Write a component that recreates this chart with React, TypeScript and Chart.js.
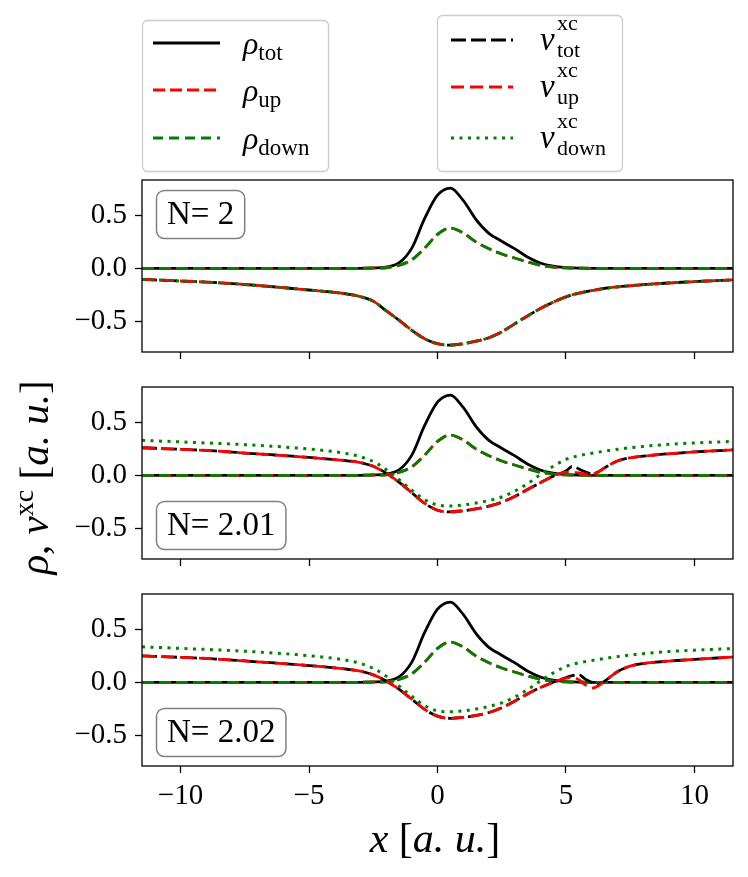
import React, { useEffect, useRef } from 'react';
import { Chart, registerables } from 'chart.js';

Chart.register(...registerables);

const SERIF = '"Liberation Serif", "Times New Roman", serif';
const BLACK = '#000000';
const RED = '#ff0000';
const GREEN = '#008000';

// sample positions (a. u.), a few extra points around the wiggle near x = 5.5
const xs = [
  -11.5, -11, -10.5, -10, -9.5, -9, -8.5, -8, -7.5, -7, -6.5, -6, -5.5, -5, -4.5, -4, -3.5,
  -3, -2.5, -2, -1.5, -1, -0.5, 0, 0.5, 1, 1.5, 2, 2.5, 3, 3.5, 4, 4.5, 5, 5.25, 5.5, 5.75,
  6, 6.25, 6.5, 7, 7.5, 8, 8.5, 9, 9.5, 10, 10.5, 11, 11.5,
];

// densities (same in the three panels)
const rhoTot = [
  0, 0, 0, 0, 0, 0, 0, 0, 0, 0, 0, 0, 0, 0, 0, 0, 0,
  0, 0.003, 0.012, 0.05, 0.19, 0.47, 0.69, 0.757, 0.64, 0.46, 0.33, 0.255, 0.185, 0.107, 0.05, 0.02, 0.007, 0.004, 0.002, 0.001,
  0, 0, 0, 0, 0, 0, 0, 0, 0, 0, 0, 0, 0,
];
const rhoUp = [
  0, 0, 0, 0, 0, 0, 0, 0, 0, 0, 0, 0, 0, 0, 0, 0, 0,
  0, 0.001, 0.005, 0.028, 0.08, 0.19, 0.32, 0.38, 0.333, 0.248, 0.185, 0.135, 0.097, 0.06, 0.028, 0.01, 0.004, 0.002, 0.001, 0,
  0, 0, 0, 0, 0, 0, 0, 0, 0, 0, 0, 0, 0,
];
const rhoDown = [
  0, 0, 0, 0, 0, 0, 0, 0, 0, 0, 0, 0, 0, 0, 0, 0, 0,
  0, 0.001, 0.005, 0.028, 0.08, 0.19, 0.32, 0.38, 0.333, 0.248, 0.185, 0.135, 0.097, 0.06, 0.028, 0.01, 0.004, 0.002, 0.001, 0,
  0, 0, 0, 0, 0, 0, 0, 0, 0, 0, 0, 0, 0,
];

// N = 2 : the three xc potentials coincide
const vN2 = [
  -0.105, -0.11, -0.115, -0.12, -0.125, -0.13, -0.137, -0.145, -0.153, -0.162, -0.172, -0.183, -0.194, -0.205, -0.216, -0.228, -0.243,
  -0.268, -0.31, -0.4, -0.49, -0.585, -0.665, -0.712, -0.725, -0.712, -0.688, -0.655, -0.6, -0.525, -0.45, -0.38, -0.32, -0.27, -0.25, -0.235, -0.222,
  -0.21, -0.2, -0.19, -0.176, -0.165, -0.155, -0.146, -0.139, -0.132, -0.126, -0.12, -0.115, -0.11,
];

// N = 2.01
const vTotN201 = [
  0.26, 0.255, 0.25, 0.245, 0.24, 0.235, 0.227, 0.219, 0.21, 0.202, 0.194, 0.186, 0.177, 0.168, 0.158, 0.148, 0.136,
  0.12, 0.085, 0.02, -0.065, -0.165, -0.265, -0.33, -0.345, -0.335, -0.318, -0.292, -0.255, -0.2, -0.135, -0.07, -0.01, 0.04, 0.085, 0.06, 0.032,
  0.015, 0.03, 0.07, 0.135, 0.165, 0.18, 0.193, 0.203, 0.212, 0.22, 0.227, 0.233, 0.24,
];
const vUpN201 = [
  0.26, 0.255, 0.25, 0.245, 0.24, 0.235, 0.227, 0.219, 0.21, 0.202, 0.194, 0.186, 0.177, 0.168, 0.158, 0.148, 0.136,
  0.12, 0.085, 0.02, -0.065, -0.165, -0.265, -0.33, -0.345, -0.335, -0.318, -0.292, -0.255, -0.2, -0.135, -0.07, -0.01, 0.03, 0.03, 0.022, 0.012,
  0.01, 0.03, 0.07, 0.135, 0.165, 0.18, 0.193, 0.203, 0.212, 0.22, 0.227, 0.233, 0.24,
];
const vDownN201 = [
  0.33, 0.325, 0.32, 0.315, 0.31, 0.305, 0.3, 0.295, 0.289, 0.283, 0.275, 0.267, 0.258, 0.248, 0.236, 0.222, 0.203,
  0.175, 0.13, 0.055, -0.04, -0.14, -0.23, -0.28, -0.29, -0.28, -0.262, -0.238, -0.205, -0.15, -0.08, 0.005, 0.085, 0.15, 0.17, 0.185, 0.198,
  0.208, 0.218, 0.227, 0.245, 0.26, 0.272, 0.283, 0.292, 0.299, 0.305, 0.31, 0.315, 0.32,
];

// N = 2.02
const vTotN202 = [
  0.25, 0.245, 0.24, 0.235, 0.23, 0.225, 0.217, 0.21, 0.201, 0.193, 0.185, 0.176, 0.167, 0.158, 0.148, 0.136, 0.123,
  0.105, 0.07, 0.012, -0.065, -0.16, -0.255, -0.32, -0.34, -0.332, -0.312, -0.285, -0.24, -0.178, -0.11, -0.05, 0.0, 0.045, 0.062, 0.072, 0.03,
  0.0, -0.02, 0.01, 0.1, 0.152, 0.177, 0.19, 0.2, 0.208, 0.216, 0.224, 0.231, 0.238,
];
const vUpN202 = [
  0.25, 0.245, 0.24, 0.235, 0.23, 0.225, 0.217, 0.21, 0.201, 0.193, 0.185, 0.176, 0.167, 0.158, 0.148, 0.136, 0.123,
  0.105, 0.07, 0.012, -0.065, -0.16, -0.255, -0.32, -0.34, -0.332, -0.312, -0.285, -0.24, -0.178, -0.11, -0.05, 0.0, 0.04, 0.045, 0.025, -0.025,
  -0.055, -0.035, 0.01, 0.1, 0.152, 0.177, 0.19, 0.2, 0.208, 0.216, 0.224, 0.231, 0.238,
];
const vDownN202 = [
  0.335, 0.33, 0.325, 0.32, 0.315, 0.31, 0.305, 0.299, 0.293, 0.286, 0.278, 0.27, 0.261, 0.251, 0.239, 0.225, 0.206,
  0.178, 0.132, 0.058, -0.035, -0.132, -0.22, -0.27, -0.278, -0.27, -0.252, -0.228, -0.195, -0.14, -0.07, 0.012, 0.088, 0.15, 0.17, 0.183, 0.195,
  0.205, 0.215, 0.224, 0.242, 0.257, 0.27, 0.281, 0.29, 0.297, 0.303, 0.308, 0.313, 0.318,
];

const xTicks = [-10, -5, 0, 5, 10];
const yTicks = [-0.5, 0, 0.5];
const panelLabels = ['N= 2', 'N= 2.01', 'N= 2.02'];

const fmtNum = (v: number, digits: number) =>
  (v < 0 ? '\u2212' : '') + Math.abs(v).toFixed(digits);

interface PanelProps {
  top: number;
  height: number;
  xAxisHeight: number;
  showXLabels: boolean;
  label: string;
  labelAtTop: boolean;
  vTot: number[];
  vUp: number[];
  vDown: number[];
}

const Panel: React.FC<PanelProps> = ({ top, height, xAxisHeight, showXLabels, label, labelAtTop, vTot, vUp, vDown }) => {
  const canvasRef = useRef<HTMLCanvasElement>(null);

  useEffect(() => {
    const ctx = canvasRef.current?.getContext('2d');
    if (!ctx) return;

    const pts = (ys: number[]) => xs.map((x, i) => ({ x, y: ys[i] }));
    const line = (name: string, ys: number[], color: string, dash: number[], width = 2.8) => ({
      label: name,
      data: pts(ys),
      borderColor: color,
      borderWidth: width,
      borderDash: dash,
      pointRadius: 0,
      fill: false,
      cubicInterpolationMode: 'monotone' as const,
    });

    // frame on all four sides plus the N= box, drawn over the curves
    const overlay = {
      id: 'overlay',
      afterDraw(chart: Chart) {
        const { ctx: c, chartArea: a } = chart;
        c.save();
        c.strokeStyle = BLACK;
        c.lineWidth = 1.3;
        c.strokeRect(a.left, a.top, a.right - a.left, a.bottom - a.top);

        c.font = `33px ${SERIF}`;
        const w = c.measureText(label).width + 21;
        const h = 48;
        const bx = a.left + 14.5;
        const by = labelAtTop ? a.top + 10.5 : a.bottom - 9.5 - h;
        c.beginPath();
        c.roundRect(bx, by, w, h, 8);
        c.fillStyle = '#ffffff';
        c.fill();
        c.strokeStyle = '#808080';
        c.lineWidth = 1.5;
        c.stroke();
        c.fillStyle = BLACK;
        c.textAlign = 'center';
        c.textBaseline = 'alphabetic';
        c.fillText(label, bx + w / 2, by + 33);
        c.restore();
      },
    };

    const chart = new Chart(ctx, {
      type: 'line',
      data: {
        datasets: [
          line('v down', vDown, GREEN, [3, 5.5], 3),
          line('v up', vUp, RED, [13, 6]),
          line('v tot', vTot, BLACK, [15, 5]),
          line('rho down', rhoDown, GREEN, [11, 6]),
          line('rho up', rhoUp, RED, [12, 5]),
          line('rho tot', rhoTot, BLACK, []),
        ],
      },
      options: {
        animation: false,
        responsive: false,
        maintainAspectRatio: false,
        layout: { padding: { top: 10, right: 15, left: 0, bottom: 0 } },
        plugins: { legend: { display: false }, tooltip: { enabled: false } },
        scales: {
          x: {
            type: 'linear',
            min: -11.5,
            max: 11.5,
            afterBuildTicks: (s: any) => {
              s.ticks = xTicks.map((value) => ({ value }));
            },
            afterFit: (s: any) => {
              s.height = xAxisHeight;
              s.paddingLeft = 0;
              s.paddingRight = 0;
            },
            grid: { drawOnChartArea: false, drawTicks: true, tickLength: 7, tickColor: BLACK, tickWidth: 1.3 },
            border: { display: false },
            ticks: {
              display: showXLabels,
              color: BLACK,
              padding: 6,
              maxRotation: 0,
              autoSkip: false,
              font: { family: SERIF, size: 29 },
              callback: (v: any) => fmtNum(Number(v), 0),
            },
          },
          y: {
            type: 'linear',
            min: -0.79,
            max: 0.833,
            afterBuildTicks: (s: any) => {
              s.ticks = yTicks.map((value) => ({ value }));
            },
            afterFit: (s: any) => {
              s.width = 142;
              s.paddingTop = 0;
              s.paddingBottom = 0;
            },
            grid: { drawOnChartArea: false, drawTicks: true, tickLength: 7, tickColor: BLACK, tickWidth: 1.3 },
            border: { display: false },
            ticks: {
              color: BLACK,
              padding: 8,
              font: { family: SERIF, size: 29 },
              callback: (v: any) => fmtNum(Number(v), 1),
            },
          },
        },
      },
      plugins: [overlay],
    });

    return () => chart.destroy();
  }, [xAxisHeight, showXLabels, label, labelAtTop, vTot, vUp, vDown]);

  return (
    <canvas
      ref={canvasRef}
      width={748}
      height={height}
      style={{ position: 'absolute', left: 0, top, width: 748, height }}
    />
  );
};

const rhoKeys = [
  { sub: 'tot', color: BLACK, dash: '', y: 43 },
  { sub: 'up', color: RED, dash: '12 5', y: 90 },
  { sub: 'down', color: GREEN, dash: '10 6', y: 138 },
];
const vKeys = [
  { sub: 'tot', color: BLACK, dash: '15 5', y: 40, width: 2.8 },
  { sub: 'up', color: RED, dash: '13 6', y: 87, width: 2.8 },
  { sub: 'down', color: GREEN, dash: '3 5.5', y: 138, width: 3 },
];

const Annotations: React.FC = () => (
  <svg
    width={748}
    height={877}
    style={{ position: 'absolute', left: 0, top: 0, pointerEvents: 'none' }}
    fontFamily={SERIF}
    fill={BLACK}
  >
    <rect x={142.5} y={20.5} width={186} height={151} rx={5} fill="#ffffff" stroke="#cccccc" strokeWidth={1.3} />
    {rhoKeys.map((k) => (
      <g key={'rho' + k.sub}>
        <line x1={153} x2={220} y1={k.y} y2={k.y} stroke={k.color} strokeWidth={2.8} strokeDasharray={k.dash || undefined} />
        <text x={243} y={k.y + 11} fontSize={32}>
          <tspan fontStyle="italic">ρ</tspan>
          <tspan fontSize={23} dy={6}>{k.sub}</tspan>
        </text>
      </g>
    ))}

    <rect x={437.5} y={15.5} width={185} height={156} rx={5} fill="#ffffff" stroke="#cccccc" strokeWidth={1.3} />
    {vKeys.map((k) => (
      <g key={'v' + k.sub}>
        <line x1={451} x2={513} y1={k.y} y2={k.y} stroke={k.color} strokeWidth={k.width} strokeDasharray={k.dash} />
        <text y={k.y + 10} fontSize={33}>
          <tspan x={540} fontStyle="italic">v</tspan>
          <tspan x={557} y={k.y - 10} fontSize={22}>xc</tspan>
          <tspan x={557} y={k.y + 17} fontSize={22}>{k.sub}</tspan>
        </text>
      </g>
    ))}

    <text transform="translate(48,477.5) rotate(-90)" textAnchor="middle" fontSize={41}>
      <tspan fontStyle="italic">ρ</tspan>
      <tspan>{',\u00a0'}</tspan>
      <tspan fontStyle="italic">v</tspan>
      <tspan fontSize={28} dy={-15}>xc</tspan>
      <tspan dy={15}>{'\u00a0['}</tspan>
      <tspan fontStyle="italic">{'a.\u00a0u.'}</tspan>
      <tspan>]</tspan>
    </text>

    <text x={435} y={852} textAnchor="middle" fontSize={42}>
      <tspan fontStyle="italic">x</tspan>
      <tspan>{'\u00a0['}</tspan>
      <tspan fontStyle="italic">{'a.\u00a0u.'}</tspan>
      <tspan>]</tspan>
    </text>
  </svg>
);

const App: React.FC = () => {
  useEffect(() => {
    document.body.style.margin = '0';
  }, []);

  return (
    <div style={{ position: 'relative', width: 748, height: 877, background: '#ffffff', overflow: 'hidden' }}>
      <Panel top={170} height={192} xAxisHeight={10} showXLabels={false} label={panelLabels[0]} labelAtTop
        vTot={vN2} vUp={vN2} vDown={vN2} />
      <Panel top={377} height={192} xAxisHeight={10} showXLabels={false} label={panelLabels[1]} labelAtTop={false}
        vTot={vTotN201} vUp={vUpN201} vDown={vDownN201} />
      <Panel top={584} height={232} xAxisHeight={50} showXLabels label={panelLabels[2]} labelAtTop={false}
        vTot={vTotN202} vUp={vUpN202} vDown={vDownN202} />
      <Annotations />
    </div>
  );
};

export default App;
